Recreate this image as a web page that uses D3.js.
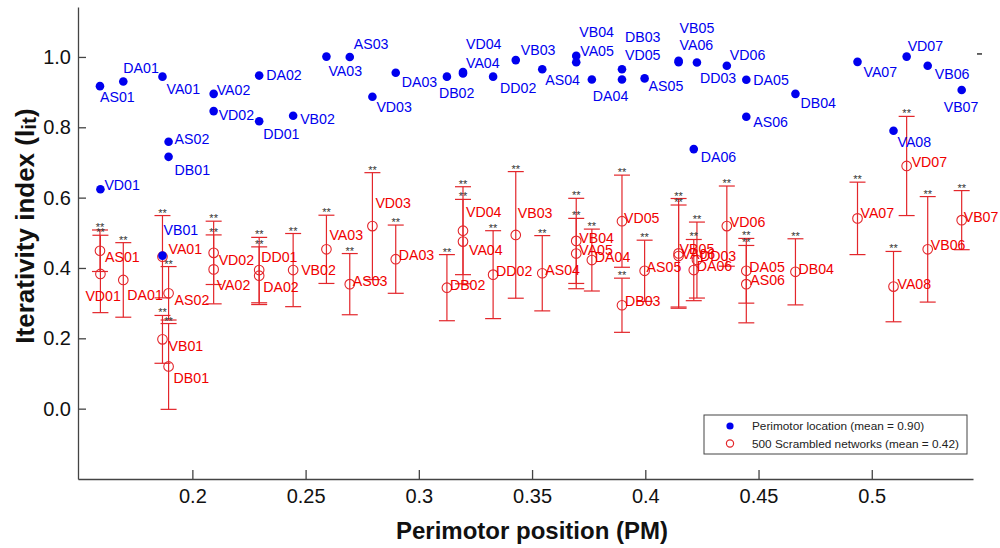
<!DOCTYPE html>
<html><head><meta charset="utf-8">
<script src="https://cdn.jsdelivr.net/npm/d3@7"></script>
<style>body{margin:0;background:#fff} text{font-family:"Liberation Sans",Arial,Helvetica,sans-serif}</style>
</head><body><svg id="chart" width="1000" height="548"></svg>
<script>
// ---------- DATA ----------
const networks = ["VD01","AS01","DA01","VA01","VB01","AS02","DB01","VA02","VD02","DA02","DD01","VB02","VA03","AS03","VD03","DA03","DB02","VD04","VA04","DD02","VB03","AS04","VB04","VA05","DA04","VD05","DB03","AS05","VB05","VA06","DD03","DA06","VD06","DA05","AS06","DB04","VA07","VA08","VD07","VB06","VB07"];
const positions = [0.1594,0.1592,0.1695,0.1868,0.1868,0.1895,0.1895,0.2094,0.2094,0.2295,0.2295,0.2445,0.2592,0.2695,0.2795,0.2898,0.3124,0.3195,0.3195,0.3328,0.3428,0.3545,0.3695,0.3695,0.3764,0.3897,0.3897,0.3997,0.4147,0.4147,0.4228,0.4214,0.4360,0.4446,0.4446,0.4663,0.4937,0.5096,0.5154,0.5247,0.5397];
const perimotorIndex = [0.624,0.917,0.930,0.944,0.435,0.759,0.716,0.895,0.846,0.947,0.817,0.833,1.001,1.000,0.887,0.955,0.944,0.957,0.953,0.944,0.991,0.965,1.003,0.985,0.936,0.965,0.936,0.939,0.989,0.985,0.984,0.738,0.975,0.935,0.830,0.895,0.986,0.790,1.001,0.975,0.906];
const scrambledMean = [0.383,0.449,0.366,0.432,0.197,0.328,0.120,0.396,0.443,0.378,0.394,0.394,0.453,0.354,0.519,0.425,0.344,0.506,0.475,0.381,0.494,0.385,0.477,0.441,0.4225,0.533,0.294,0.392,0.4415,0.434,0.4225,0.394,0.519,0.392,0.354,0.389,0.541,0.347,0.690,0.453,0.536];
const scrambledSD = [0.110,0.059,0.106,0.117,0.068,0.076,0.122,0.098,0.090,0.082,0.093,0.104,0.097,0.087,0.152,0.097,0.094,0.125,0.120,0.125,0.180,0.107,0.121,0.100,0.088,0.131,0.077,0.087,0.156,0.145,0.108,0.087,0.114,0.092,0.110,0.094,0.103,0.100,0.141,0.150,0.084];
const significance = "**";
const xTickValues = [0.2,0.25,0.3,0.35,0.4,0.45,0.5];
const xTickLabels = ["0.2","0.25","0.3","0.35","0.4","0.45","0.5"];
const yTickValues = [0,0.2,0.4,0.6,0.8,1.0];
const yTickLabels = ["0.0","0.2","0.4","0.6","0.8","1.0"];
const legendLabels = ["Perimotor location (mean = 0.90)","500 Scrambled networks (mean = 0.42)"];
const xTitle = "Perimotor position (PM)";

// ---------- LAYOUT (label offsets in px, not data) ----------
const blueLabelOffset = {AS01:[0,16],DA01:[0,-9],VA01:[4,17],VA02:[3,1],VD02:[5,9],DA02:[7,4],DD01:[4,18],VB02:[7,8],VA03:[2,19],AS03:[4,-8],VD03:[4,15],DA03:[6,14],DB02:[-8,21],VA04:[3,-5],VD04:[3,-23],DD02:[7,16],VB03:[5,-5],AS04:[3,16],VB04:[3,-19],VA05:[4,-6],DA04:[1,22],VD05:[3,-9],DB03:[3,-37],AS05:[4,13],VB05:[1,-28],VA06:[1,-12],DD03:[3,20],DA06:[7,13],VD06:[3,-6],DA05:[7,5],AS06:[7,10],DB04:[5,14],VA07:[6,15],VA08:[4,16],VD07:[1,-6],VB06:[7,13],VB07:[-18,22],AS02:[6,2],DB01:[6,18],VD01:[4,1],VB01:[1,-21]};
const redLabelOffset = {AS01:[5,11],VD01:[-15,27],DA01:[4,20],VA01:[6,-3],AS02:[6,12],VB01:[6,12],DB01:[5,17],VD02:[5,12],VA02:[3,21],DD01:[2,-8],DA02:[4,16],VB02:[8,5],VA03:[3,-9],AS03:[3,2],VD03:[3,-18],DA03:[3,1],DB02:[3,2],VD04:[3,-14],VA04:[6,13],DD02:[3,1],VB03:[2,-17],AS04:[3,2],VB04:[3,2],VA05:[3,1],DA04:[3,2],VD05:[2,2],DB03:[3,1],AS05:[2,1],VB05:[1,1],VA06:[3,3],DD03:[3,1],DA06:[3,1],VD06:[3,1],DA05:[3,1],AS06:[4,1],DB04:[3,2],VA07:[3,0],VD07:[5,1],VA08:[4,2],VB06:[3,1],VB07:[2,2]};

const BLUE = "#0000ee", RED_TXT = "#f00000", RED_LINE = "#e3262b";

const rows = networks.map((n,i)=>({name:n,x:positions[i],b:perimotorIndex[i],m:scrambledMean[i],s:scrambledSD[i]}));

const svg = d3.select("#chart");
const x = d3.scaleLinear().domain([0.1495,0.5447]).range([78,973]);
const y = d3.scaleLinear().domain([-0.2,1.142]).range([479,7]);

// axes
const xAxis = d3.axisBottom(x).tickValues(xTickValues).tickFormat((d,i)=>xTickLabels[i]).tickSizeInner(-9).tickSizeOuter(0).tickPadding(10);
const gx = svg.append("g").attr("transform",`translate(0,${y.range()[0]})`).call(xAxis);
const yAxis = d3.axisLeft(y).tickValues(yTickValues).tickFormat((d,i)=>yTickLabels[i]).tickSizeInner(-8).tickSizeOuter(0).tickPadding(7);
const gy = svg.append("g").attr("transform",`translate(${x.range()[0]},0)`).call(yAxis);
[gx,gy].forEach(g=>{
  g.selectAll("path,line").attr("stroke","#444").attr("stroke-width",1.3);
  g.selectAll("text").attr("font-size",20).attr("fill","#111").attr("font-family",'"Liberation Sans",Arial,sans-serif');
});
// small stray right tick
svg.append("line").attr("x1",x.range()[1]+4).attr("x2",x.range()[1]+9).attr("y1",y(1.0)-3).attr("y2",y(1.0)-3).attr("stroke","#333").attr("stroke-width",1.5);

// titles
svg.append("text").attr("x",532).attr("y",539).attr("text-anchor","middle").attr("font-size",24).attr("font-weight","bold").attr("fill","#111").text(xTitle);
const yt = svg.append("text").attr("transform","translate(34,226) rotate(-90)").attr("text-anchor","middle").attr("font-size",26).attr("font-weight","bold").attr("fill","#111");
yt.append("tspan").text("Iterativity index (l");
yt.append("tspan").attr("font-size",21).attr("dy",2).text("it");
yt.append("tspan").attr("dy",-2).text(")");

// error bars
const cap = 8;
const eb = svg.append("g").attr("stroke",RED_LINE).attr("stroke-width",1.2).attr("fill","none");
rows.forEach(r=>{
  const lo = y(r.m - r.s), hi = y(r.m + r.s), cx = x(r.x);
  eb.append("line").attr("x1",cx).attr("x2",cx).attr("y1",lo).attr("y2",hi);
  eb.append("line").attr("x1",cx-cap).attr("x2",cx+cap).attr("y1",lo).attr("y2",lo);
  eb.append("line").attr("x1",cx-cap).attr("x2",cx+cap).attr("y1",hi).attr("y2",hi);
});
// significance stars
svg.append("g").selectAll("text").data(rows).join("text")
  .attr("x",d=>x(d.x)).attr("y",d=>y(d.m+d.s)+1).attr("text-anchor","middle")
  .attr("font-size",11).attr("fill","#333").text(significance);
// red circles
svg.append("g").selectAll("circle").data(rows).join("circle")
  .attr("cx",d=>x(d.x)).attr("cy",d=>y(d.m)).attr("r",4.8)
  .attr("fill","none").attr("stroke",RED_LINE).attr("stroke-width",1.1);
// red labels
svg.append("g").selectAll("text").data(rows).join("text")
  .attr("x",d=>x(d.x)+(redLabelOffset[d.name]||[3,2])[0])
  .attr("y",d=>y(d.m)+(redLabelOffset[d.name]||[3,2])[1])
  .attr("font-size",14.2).attr("fill",RED_TXT).text(d=>d.name);
// blue dots
svg.append("g").selectAll("circle").data(rows).join("circle")
  .attr("cx",d=>x(d.x)).attr("cy",d=>y(d.b)).attr("r",4.3).attr("fill",BLUE);
svg.append("g").selectAll("text").data(rows).join("text")
  .attr("x",d=>x(d.x)+(blueLabelOffset[d.name]||[3,2])[0])
  .attr("y",d=>y(d.b)+(blueLabelOffset[d.name]||[3,2])[1])
  .attr("font-size",14.2).attr("fill",BLUE).text(d=>d.name);

// legend
const lg = svg.append("g").attr("transform","translate(704,415)");
lg.append("rect").attr("width",263).attr("height",39).attr("fill","#fff").attr("stroke","#444").attr("stroke-width",1);
lg.append("circle").attr("cx",26).attr("cy",11).attr("r",3.6).attr("fill",BLUE);
lg.append("circle").attr("cx",26).attr("cy",28.5).attr("r",3.6).attr("fill","none").attr("stroke",RED_LINE).attr("stroke-width",1.2);
lg.selectAll("text.l").data(legendLabels).join("text").attr("class","l")
  .attr("x",48).attr("y",(d,i)=>15+i*17.5).attr("font-size",11.8).attr("fill","#222").text(d=>d);
</script></body></html>
